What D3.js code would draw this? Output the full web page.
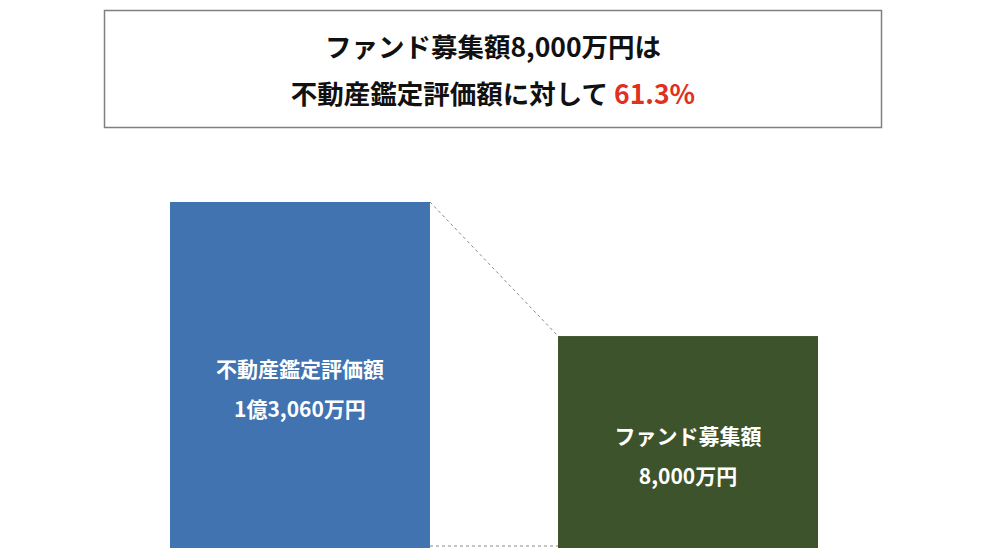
<!DOCTYPE html>
<html><head><meta charset="utf-8">
<script src="https://cdn.jsdelivr.net/npm/d3@7"></script>
<style>body{margin:0;background:#fff}</style>
</head><body>
<svg id="c" width="1006" height="560"></svg>
<script>
const labels = ["不動産鑑定評価額", "ファンド募集額"]
const values = [13060, 8000]
const valueText = ["1億3,060万円", "8,000万円"]
const colors = ["#4173b1", "#3d532b"]

const svg = d3.select("#c")
const font = "'Noto Sans CJK JP', sans-serif"

// title box
svg.append("rect").attr("x", 104.5).attr("y", 10.5).attr("width", 777).attr("height", 117)
  .attr("fill", "#fff").attr("stroke", "#808080").attr("stroke-width", 1.5)
svg.append("text").attr("x", 493).attr("y", 57).attr("text-anchor", "middle")
  .attr("font-family", font).attr("font-weight", "bold").attr("font-size", 26.5).attr("fill", "#111")
  .text("ファンド募集額8,000万円は")
const t2 = svg.append("text").attr("x", 493).attr("y", 104).attr("text-anchor", "middle")
  .attr("font-family", font).attr("font-weight", "bold").attr("font-size", 26.5).attr("fill", "#111")
t2.append("tspan").text("不動産鑑定評価額に対して ")
t2.append("tspan").attr("fill", "#e0301e").text((values[1] / values[0] * 100).toFixed(1) + "%")

const x = d3.scaleBand().domain(labels).range([170, 818]).paddingInner(0.33).paddingOuter(0)
const y = d3.scaleLinear().domain([0, values[0]]).range([548, 202])

const bars = svg.append("g")
labels.forEach((l, i) => {
  bars.append("rect").attr("x", x(l)).attr("y", y(values[i])).attr("width", x.bandwidth())
    .attr("height", y(0) - y(values[i])).attr("fill", colors[i])
  const cx = x(l) + x.bandwidth() / 2, cy = (y(values[i]) + y(0)) / 2
  svg.append("text").attr("x", cx).attr("y", cy + 2).attr("text-anchor", "middle")
    .attr("font-family", font).attr("font-weight", "bold").attr("font-size", 21).attr("fill", "#fff").text(l)
  svg.append("text").attr("x", cx).attr("y", cy + 42).attr("text-anchor", "middle")
    .attr("font-family", font).attr("font-weight", "bold").attr("font-size", 21).attr("fill", "#fff").text(valueText[i])
})

// connector lines
const x0 = x(labels[0]) + x.bandwidth(), x1 = x(labels[1])
svg.append("line").attr("x1", x0).attr("y1", y(values[0])).attr("x2", x1).attr("y2", y(values[1]))
  .attr("stroke", "#888").attr("stroke-dasharray", "3,3")
svg.append("line").attr("x1", x0).attr("y1", y(0) - 2).attr("x2", x1).attr("y2", y(0) - 2)
  .attr("stroke", "#888").attr("stroke-dasharray", "3,3")
</script>
</body></html>
